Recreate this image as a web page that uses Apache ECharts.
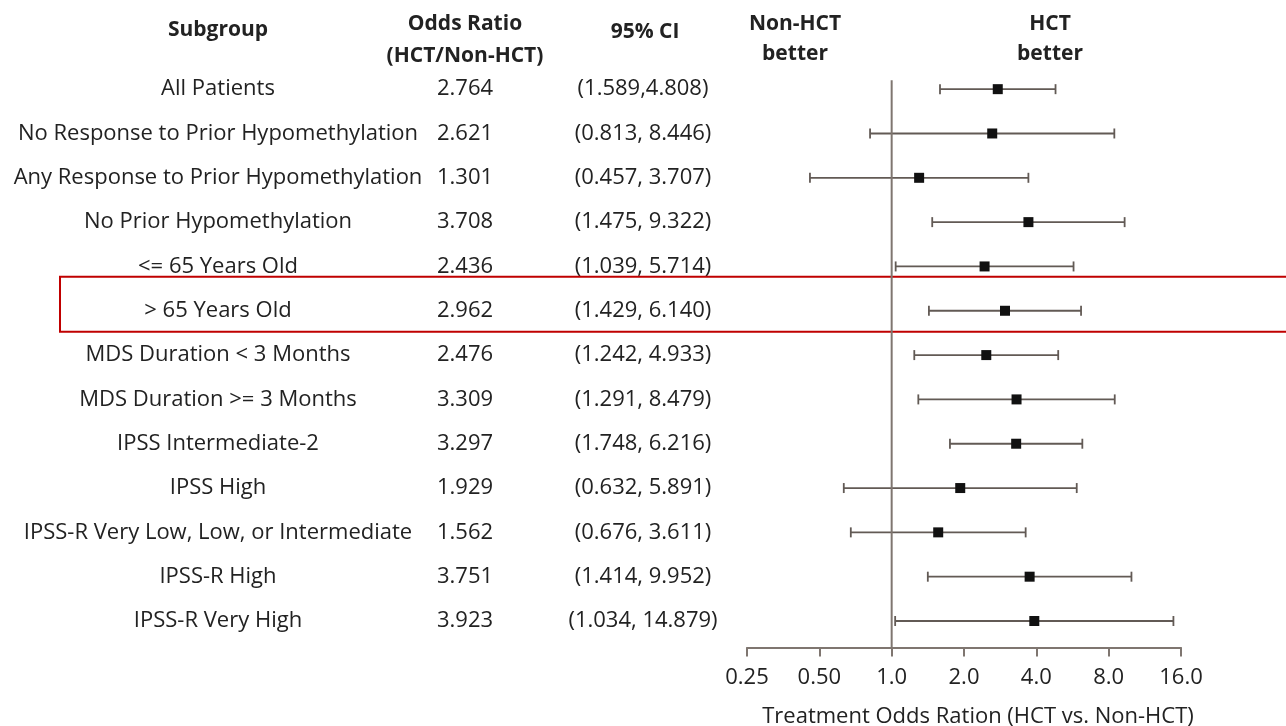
<!DOCTYPE html>
<html>
<head>
<meta charset="utf-8">
<script src="https://cdn.jsdelivr.net/npm/echarts@6/dist/echarts.min.js"></script>
<style>
html,body{margin:0;padding:0;background:#fff;}
#chart{width:1286px;height:726px;}
</style>
</head>
<body>
<div id="chart"></div>
<script>
const subgroups = [
  'All Patients',
  'No Response to Prior Hypomethylation',
  'Any Response to Prior Hypomethylation',
  'No Prior Hypomethylation',
  '<= 65 Years Old',
  '> 65 Years Old',
  'MDS Duration < 3 Months',
  'MDS Duration >= 3 Months',
  'IPSS Intermediate-2',
  'IPSS High',
  'IPSS-R Very Low, Low, or Intermediate',
  'IPSS-R High',
  'IPSS-R Very High'
];
const oddsRatio = [2.764, 2.621, 1.301, 3.708, 2.436, 2.962, 2.476, 3.309, 3.297, 1.929, 1.562, 3.751, 3.923];
const ciLow  = [1.589, 0.813, 0.457, 1.475, 1.039, 1.429, 1.242, 1.291, 1.748, 0.632, 0.676, 1.414, 1.034];
const ciHigh = [4.808, 8.446, 3.707, 9.322, 5.714, 6.140, 4.933, 8.479, 6.216, 5.891, 3.611, 9.952, 14.879];
const ciText = [
  '(1.589,4.808)', '(0.813, 8.446)', '(0.457, 3.707)', '(1.475, 9.322)', '(1.039, 5.714)',
  '(1.429, 6.140)', '(1.242, 4.933)', '(1.291, 8.479)', '(1.748, 6.216)', '(0.632, 5.891)',
  '(0.676, 3.611)', '(1.414, 9.952)', '(1.034, 14.879)'
];
const tickLabels = ['0.25', '0.50', '1.0', '2.0', '4.0', '8.0', '16.0'];
const highlightRow = 5;

const FONT = 'Open Sans';
const TEXT = '#222';
const LINE = '#7f7670';

const chart = echarts.init(document.getElementById('chart'));

const forestData = oddsRatio.map((v, i) => [v, i, ciLow[i], ciHigh[i]]);
const tableData = subgroups.map((s, i) => [1, i]);

function hdr(text, x, y) {
  return {
    type: 'text', x: x, y: y,
    style: { text: text, font: 'bold 21px "' + FONT + '"', fill: TEXT, textAlign: 'center', textVerticalAlign: 'middle' }
  };
}

chart.setOption({
  animation: false,
  backgroundColor: '#fff',
  grid: { left: 747, right: 105, top: 67, bottom: 78.4, outerBoundsMode: 'none', containLabel: false },
  xAxis: {
    type: 'log', logBase: 2, min: 0.25, max: 16,
    axisLine: { show: true, onZero: false, lineStyle: { color: LINE, width: 2 } },
    axisTick: { show: true, length: 9, lineStyle: { color: LINE, width: 2 } },
    splitLine: { show: false },
    axisLabel: {
      margin: 19, fontFamily: FONT, fontSize: 22, color: TEXT,
      formatter: function (v) { return tickLabels[Math.round(Math.log2(v)) + 2]; }
    },
    name: 'Treatment Odds Ration (HCT vs. Non-HCT)',
    nameLocation: 'middle', nameGap: 58,
    nameTextStyle: { fontFamily: FONT, fontSize: 22, color: TEXT, padding: [0, 0, 0, 28] }
  },
  yAxis: { type: 'value', inverse: true, min: -0.5, max: 12.6, show: false },
  graphic: [
    hdr('Subgroup', 218, 30),
    hdr('Odds Ratio', 465, 24),
    hdr('(HCT/Non-HCT)', 465, 56),
    hdr('95% CI', 645, 32),
    hdr('Non-HCT', 795, 24),
    hdr('better', 795, 54),
    hdr('HCT', 1050, 24),
    hdr('better', 1050, 54)
  ],
  series: [
    {
      type: 'line',
      data: [[1, -0.2], [1, 12.6]],
      symbol: 'none',
      lineStyle: { color: LINE, width: 2 },
      silent: true
    },
    {
      type: 'custom',
      data: tableData,
      clip: false,
      silent: true,
      renderItem: function (params, api) {
        const i = api.value(1);
        const y = api.coord([1, i])[1];
        const mk = (t, x) => ({
          type: 'text', x: x, y: y,
          style: { text: t, font: '22px "' + FONT + '"', fill: TEXT, textAlign: 'center', textVerticalAlign: 'middle' }
        });
        const children = [
          mk(subgroups[i], 218),
          mk(oddsRatio[i].toFixed(3), 465),
          mk(ciText[i], 643)
        ];
        if (i === highlightRow) {
          children.push({
            type: 'rect',
            shape: { x: 60, y: y - 34, width: 1240, height: 55 },
            style: { fill: 'none', stroke: '#c00000', lineWidth: 2 }
          });
        }
        return { type: 'group', children: children };
      }
    },
    {
      type: 'custom',
      data: forestData,
      encode: { x: [0, 2, 3], y: 1 },
      renderItem: function (params, api) {
        const i = api.value(1);
        const p = api.coord([api.value(0), i]);
        const lo = api.coord([api.value(2), i]);
        const hi = api.coord([api.value(3), i]);
        const cap = 5;
        const ls = { stroke: '#625a55', lineWidth: 1.8 };
        return {
          type: 'group',
          children: [
            { type: 'line', shape: { x1: lo[0], y1: lo[1], x2: hi[0], y2: hi[1] }, style: ls },
            { type: 'line', shape: { x1: lo[0], y1: lo[1] - cap, x2: lo[0], y2: lo[1] + cap }, style: ls },
            { type: 'line', shape: { x1: hi[0], y1: hi[1] - cap, x2: hi[0], y2: hi[1] + cap }, style: ls },
            { type: 'rect', shape: { x: p[0] - 5, y: p[1] - 5, width: 10, height: 10 }, style: { fill: '#111' } }
          ]
        };
      }
    }
  ]
});
</script>
</body>
</html>
